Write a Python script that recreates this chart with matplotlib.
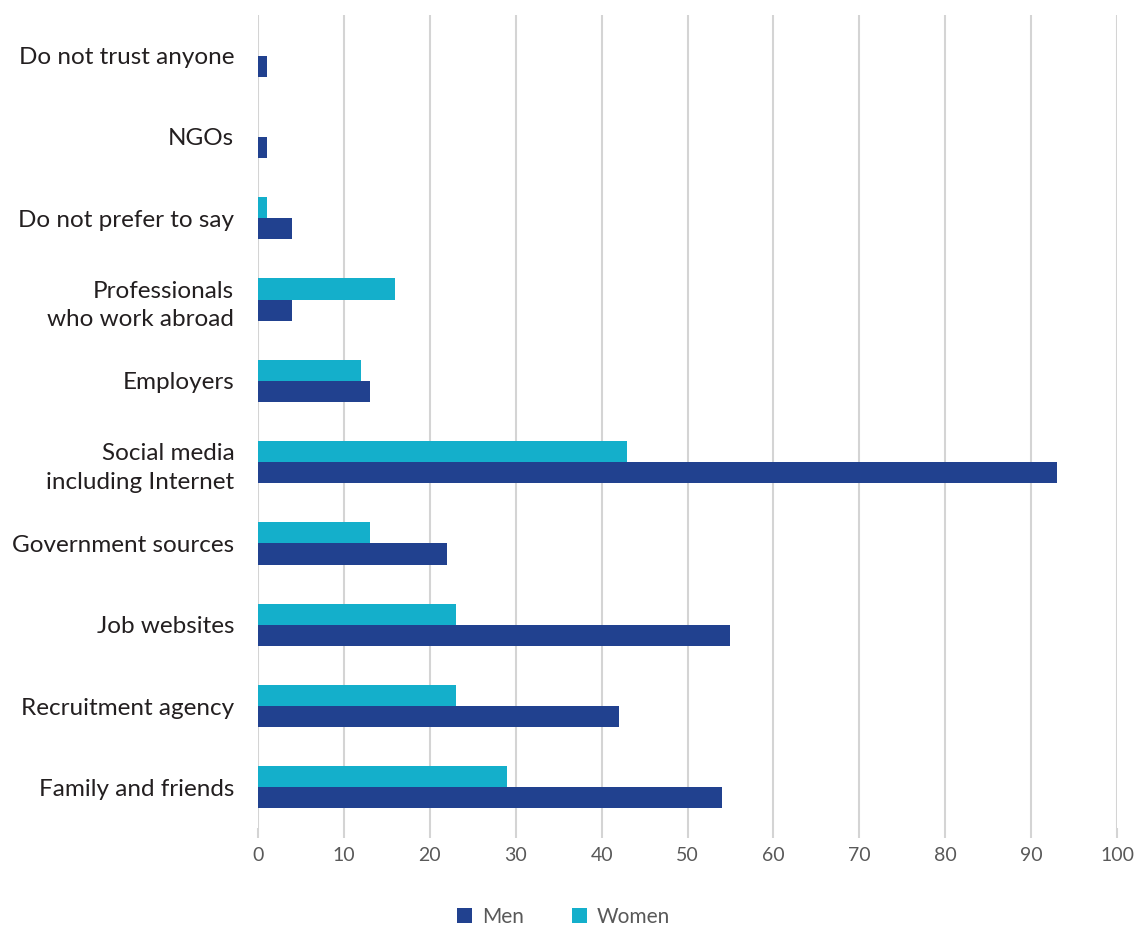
import matplotlib
matplotlib.use("Agg")
import matplotlib.pyplot as plt
import numpy as np

# Sources of information, bottom to top
categories = [
    "Family and friends",
    "Recruitment agency",
    "Job websites",
    "Government sources",
    "Social media\nincluding Internet",
    "Employers",
    "Professionals\nwho work abroad",
    "Do not prefer to say",
    "NGOs",
    "Do not trust anyone",
]
men = [54, 42, 55, 22, 93, 13, 4, 4, 1, 1]
women = [29, 23, 23, 13, 43, 12, 16, 1, 0, 0]
ticks = list(range(0, 101, 10))

MEN_C = "#21418F"
WOMEN_C = "#14AFCB"
GRID_C = "#D4D4D4"

plt.rcParams["font.family"] = ["Lato", "DejaVu Sans"]

fig = plt.figure(figsize=(11.39, 9.27), dpi=100)
ax = fig.add_axes([0.2265, 0.1068, 0.7542, 0.877])

y = np.arange(len(categories))
h = 0.26
ax.barh(y - h / 2, men, height=h, color=MEN_C, label="Men", zorder=3)
ax.barh(y + h / 2, women, height=h, color=WOMEN_C, label="Women", zorder=3)

ax.set_xlim(0, 100)
ax.set_ylim(-0.5, len(categories) - 0.5)
ax.set_xticks(ticks)
ax.set_xticklabels([str(t) for t in ticks], fontsize=14, color="#595959")
ax.set_yticks(y)
ax.set_yticklabels(categories, fontsize=17.5, color="#231F20",
                   linespacing=1.45)

ax.grid(axis="x", color=GRID_C, linewidth=1.5, zorder=0)
for s in ax.spines.values():
    s.set_visible(False)
ax.tick_params(axis="x", length=7, width=1.5, color=GRID_C, pad=7)
ax.tick_params(axis="y", length=0, pad=17)

handles, labels = ax.get_legend_handles_labels()
fig.legend(handles, labels, loc="center", bbox_to_anchor=(0.495, 0.011),
           ncol=2, frameon=False, fontsize=15, handlelength=0.7,
           handleheight=0.7, handletextpad=0.5, columnspacing=2.3,
           labelcolor="#595959")

fig.savefig("out.png", dpi=100, facecolor="white")
